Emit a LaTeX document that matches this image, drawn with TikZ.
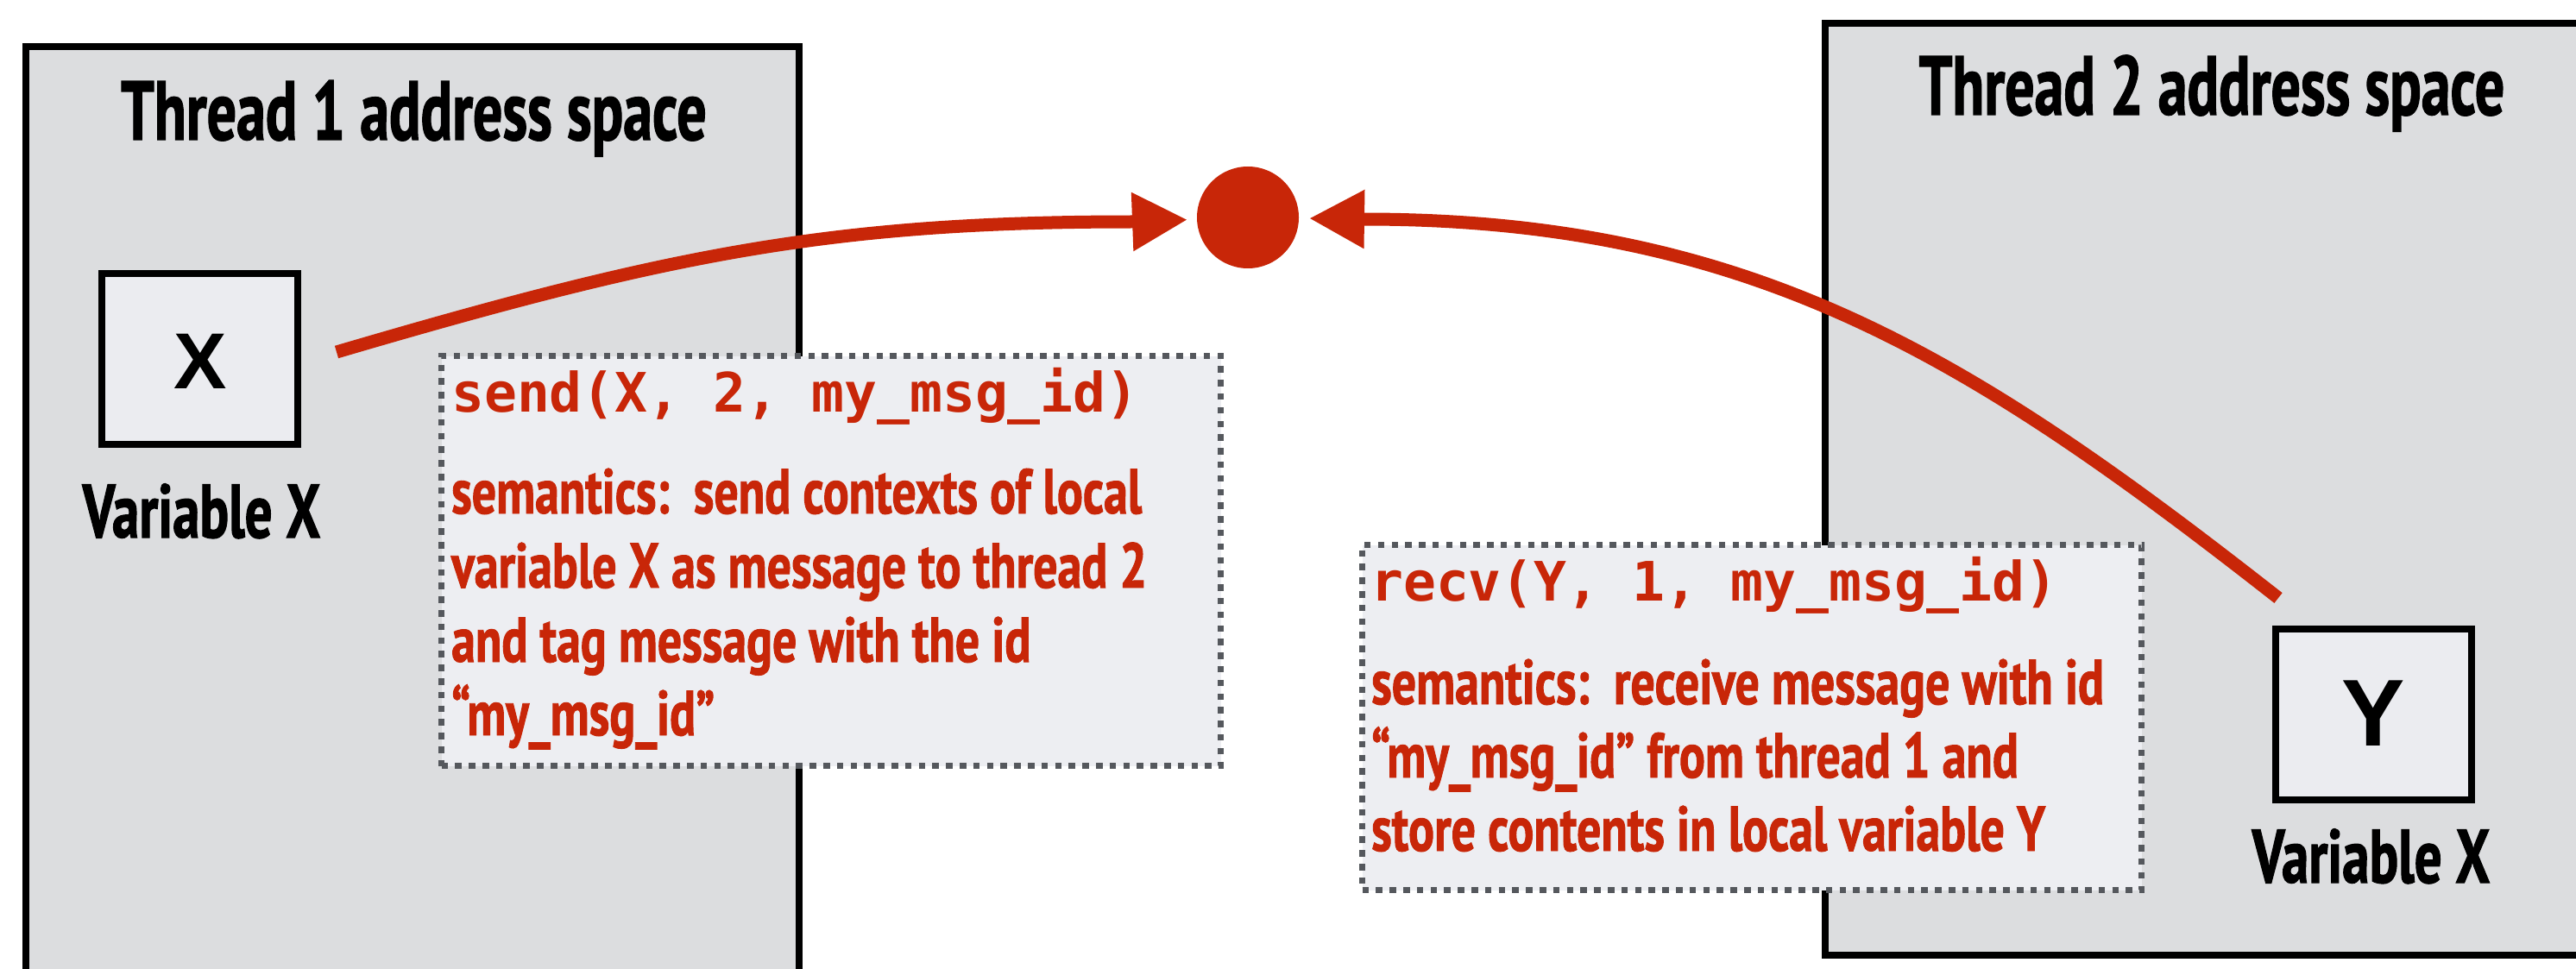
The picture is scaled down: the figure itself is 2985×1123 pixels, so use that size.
\documentclass[tikz,border=0pt]{standalone}
\usepackage{fontspec}
\usetikzlibrary{arrows.meta}
\newfontfamily\titlefont{PT Sans}[FakeStretch=0.70, BoldFeatures={FakeBold=1.3}]
\newfontfamily\labelfont{PT Sans}[FakeStretch=0.715, BoldFeatures={FakeBold=1.3}]
\newfontfamily\semfont{PT Sans}[FakeStretch=0.76, BoldFeatures={FakeBold=1.3}]
\newfontfamily\codefont{DejaVu Sans Mono}
\newfontfamily\letterfont{Liberation Sans}
\definecolor{msgred}{RGB}{200,38,8}
\definecolor{threadfill}{RGB}{220,221,223}
\definecolor{varfill}{RGB}{235,236,240}
\definecolor{notefill}{RGB}{237,238,242}
\definecolor{dotgray}{RGB}{85,88,93}
\begin{document}
\begin{tikzpicture}[x=1pt,y=-1pt,
  threadbox/.style={draw=black, line width=8pt, fill=threadfill, inner sep=0pt, anchor=north west},
  varbox/.style={draw=black, line width=8pt, fill=varfill, inner sep=0pt, minimum width=227pt, minimum height=198pt},
  notebox/.style={draw=dotgray, line width=7.3pt, fill=notefill, dash pattern=on 7.5pt off 8.3pt, inner sep=0pt, anchor=north west},
  threadtitle/.style={font=\titlefont\bfseries\fontsize{97}{100}\selectfont, anchor=base, inner sep=0pt},
  varlabel/.style={font=\labelfont\bfseries\fontsize{88}{90}\selectfont, anchor=base, inner sep=0pt},
  varletter/.style={font=\letterfont\bfseries\fontsize{#1}{#1}\selectfont, inner sep=0pt},
  codeline/.style={font=\codefont\bfseries\fontsize{63}{70}\selectfont, text=msgred, anchor=base west, inner sep=0pt},
  semline/.style={font=\semfont\bfseries\fontsize{73.5}{80}\selectfont, text=msgred, anchor=base west, inner sep=0pt},
  conn/.style={draw=msgred, line width=15pt, -{Triangle[length=64pt,width=64pt]}},
]
\useasboundingbox (0,0) rectangle (2985,1123);
\clip (0,0) rectangle (2985,1123);
\fill[white] (0,0) rectangle (2985,1123);

% thread address spaces
\node[threadbox, minimum width=896pt, minimum height=1100pt] (t1) at (26,50) {};
\node[threadbox, minimum width=889pt, minimum height=1080pt] (t2) at (2111,23) {};
\node[threadtitle] (t1title) at (479.5,162) {Thread 1 address space};
\node[threadtitle] (t2title) at (2563,133) {Thread 2 address space};

% variables
\node[varbox] (xbox) at (231.5,416) {};
\node[varletter=92] (xletter) at (232,419) {X};
\node[varlabel] (xlabel) at (233.5,623) {Variable X};
\node[varbox] (ybox) at (2750,828) {};
\node[varletter=110] (yletter) at (2750,827) {Y};
\node[varlabel] (ylabel) at (2747.5,1023) {Variable X};

% notes
\node[notebox, minimum width=903pt, minimum height=475pt] (sendbox) at (508,409) {};
\node[codeline] (sendcode) at (523,477) {send(X, 2, my\_msg\_id)};
\node[semline] (send1) at (523,595) {semantics:\ \ send contexts of local};
\node[semline] (send2) at (523,681) {variable X as message to thread 2};
\node[semline] (send3) at (523,767) {and tag message with the id};
\node[semline] (send4) at (523,852) {“my\_msg\_id”};

\node[notebox, minimum width=903pt, minimum height=400pt] (recvbox) at (1575,628) {};
\node[codeline] (recvcode) at (1588,696) {recv(Y, 1, my\_msg\_id)};
\node[semline] (recv1) at (1589,816) {semantics:\ \ receive message with id};
\node[semline] (recv2) at (1589,901) {“my\_msg\_id” from thread 1 and};
\node[semline] (recv3) at (1589,986) {store contents in local variable Y};

% message
\node[circle, fill=msgred, minimum size=118pt, inner sep=0pt] (msg) at (1446,252) {};
\coordinate (xs) at (390,408);
\coordinate (ys) at (2640,693);
\draw[conn, shorten >=70pt] (xs) .. controls (774,295) and (962,257) .. (1312,257) -- (msg.center);
\draw[conn, shorten >=71pt] (ys) .. controls (2284,414) and (2030,254) .. (1580,254) -- (msg.center);
\end{tikzpicture}
\end{document}
